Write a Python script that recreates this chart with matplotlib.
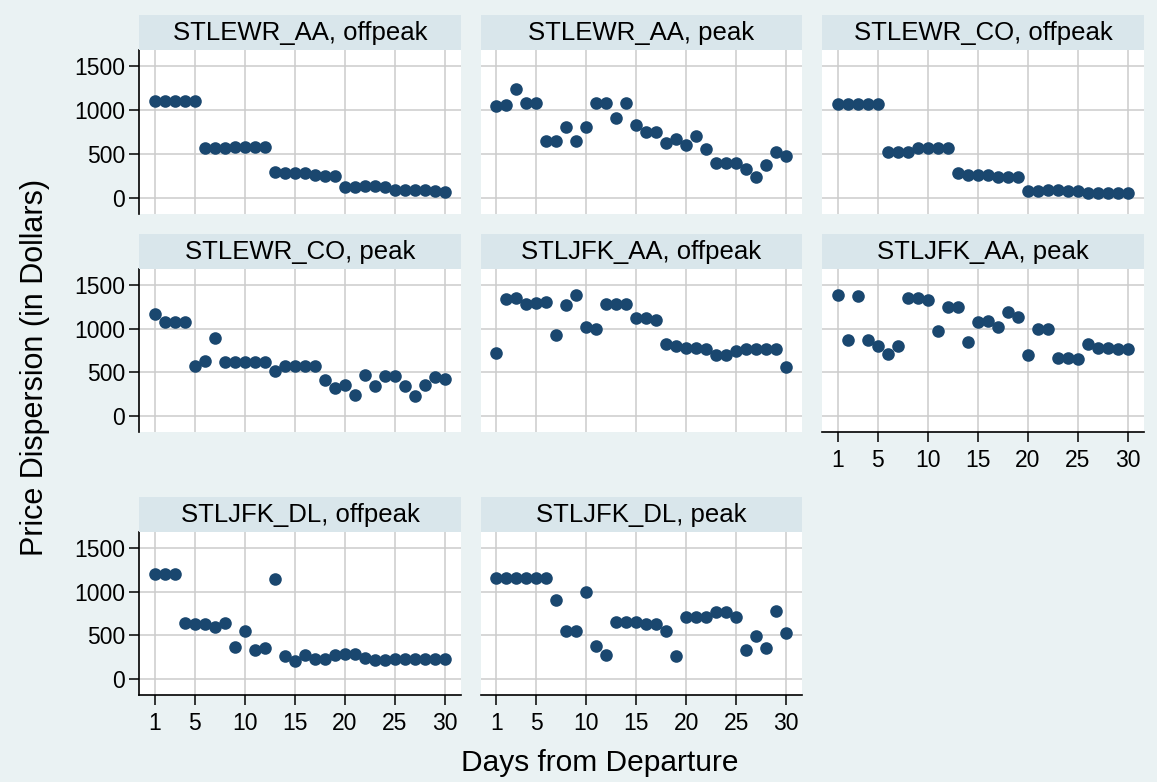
import numpy as np
import matplotlib
matplotlib.use("Agg")
import matplotlib.pyplot as plt

plt.rcParams["font.family"] = ["Liberation Sans", "DejaVu Sans"]

days = np.arange(1, 31)

panel_titles = [
    "STLEWR_AA, offpeak", "STLEWR_AA, peak", "STLEWR_CO, offpeak",
    "STLEWR_CO, peak", "STLJFK_AA, offpeak", "STLJFK_AA, peak",
    "STLJFK_DL, offpeak", "STLJFK_DL, peak",
]

stlewr_aa_offpeak = [1100, 1100, 1100, 1100, 1100, 565, 565, 565, 580, 580,
                     580, 580, 300, 282, 282, 282, 263, 252, 252, 124,
                     124, 140, 140, 124, 94, 86, 86, 94, 75, 68]
stlewr_aa_peak = [1041, 1060, 1241, 1083, 1083, 647, 647, 808, 647, 808,
                  1083, 1083, 914, 1083, 835, 752, 752, 628, 666, 602,
                  699, 553, 395, 395, 395, 327, 244, 376, 519, 481]
stlewr_co_offpeak = [1072, 1072, 1072, 1072, 1072, 526, 519, 519, 572, 572,
                     572, 572, 282, 263, 263, 263, 244, 244, 244, 75,
                     75, 94, 94, 75, 75, 56, 56, 56, 56, 56]
stlewr_co_peak = [1167, 1072, 1072, 1072, 572, 629, 894, 621, 621, 621,
                  621, 621, 515, 572, 572, 572, 572, 413, 326, 356,
                  243, 466, 345, 459, 459, 345, 231, 352, 447, 428]
stljfk_aa_offpeak = [724, 1338, 1349, 1281, 1292, 1308, 932, 1273, 1380, 1016,
                     997, 1281, 1281, 1281, 1122, 1122, 1103, 819, 800, 773,
                     773, 770, 701, 701, 743, 770, 770, 770, 770, 561]
stljfk_aa_peak = [1380, 868, 1368, 868, 800, 705, 807, 1349, 1349, 1330,
                  970, 1247, 1247, 849, 1073, 1092, 1020, 1186, 1129, 697,
                  1001, 1001, 667, 667, 648, 819, 773, 773, 770, 770]
stljfk_dl_offpeak = [1196, 1196, 1196, 639, 628, 628, 590, 639, 365, 553,
                     327, 357, 1139, 263, 207, 271, 226, 226, 274, 282,
                     282, 237, 214, 214, 226, 233, 233, 233, 233, 233]
stljfk_dl_peak = [1158, 1158, 1158, 1158, 1158, 1158, 910, 553, 553, 996,
                  376, 271, 651, 651, 651, 628, 632, 553, 263, 707,
                  707, 707, 771, 771, 714, 331, 489, 350, 782, 523]

series = [stlewr_aa_offpeak, stlewr_aa_peak, stlewr_co_offpeak,
          stlewr_co_peak, stljfk_aa_offpeak, stljfk_aa_peak,
          stljfk_dl_offpeak, stljfk_dl_peak]

x_ticks = [1, 5, 10, 15, 20, 25, 30]
y_ticks = [0, 500, 1000, 1500]

bg = "#EAF2F3"
strip = "#D9E6EB"
navy = "#1A476F"
grid = "#CCCCCC"

W, H = 1157, 782
fig = plt.figure(figsize=(W / 100, H / 100), dpi=100, facecolor=bg)

cols = [(139, 461), (481, 802), (822, 1144)]
rows = [(15, 50, 214), (234, 269, 432), (497, 532, 695)]  # strip top, plot top, plot bottom

for i, (title, vals) in enumerate(zip(panel_titles, series)):
    r, c = divmod(i, 3)
    x0, x1 = cols[c]
    st, pt, pb = rows[r]
    ax = fig.add_axes([x0 / W, 1 - pb / H, (x1 - x0) / W, (pb - pt) / H])
    sax = fig.add_axes([x0 / W, 1 - pt / H, (x1 - x0) / W, (pt - st) / H])
    sax.set_facecolor(strip)
    sax.set_xticks([])
    sax.set_yticks([])
    for s in sax.spines.values():
        s.set_visible(False)
    sax.text(0.5, 0.48, title, ha="center", va="center", fontsize=18.5,
             transform=sax.transAxes)

    ax.set_facecolor("white")
    ax.scatter(days, vals, s=82, color=navy, zorder=3, linewidths=0)
    ax.set_xlim(-0.55, 31.6)
    ax.set_ylim(-182, 1682)
    ax.set_xticks(x_ticks)
    ax.set_yticks(y_ticks)
    ax.grid(True, color=grid, linewidth=1.1)
    ax.set_axisbelow(True)
    for s in ax.spines.values():
        s.set_visible(False)

    show_y = c == 0
    show_x = (r == 2) or (r == 1 and c == 2)
    if show_y:
        ax.spines["left"].set_visible(True)
        ax.spines["left"].set_linewidth(1.2)
    if show_x:
        ax.spines["bottom"].set_visible(True)
        ax.spines["bottom"].set_linewidth(1.2)
    ax.tick_params(axis="y", length=7 if show_y else 0, width=1.1,
                   labelleft=show_y, labelsize=16.5, pad=3)
    ax.tick_params(axis="x", length=7 if show_x else 0, width=1.1,
                   labelbottom=show_x, labelsize=16.5, pad=5)

fig.text(35 / W, 1 - 367 / H, "Price Dispersion (in Dollars)", rotation=90,
         ha="center", va="center", fontsize=22)
fig.text(600 / W, 1 - 763 / H, "Days from Departure", ha="center",
         va="center", fontsize=21.5)

fig.savefig("out.png", dpi=100, facecolor=bg)
